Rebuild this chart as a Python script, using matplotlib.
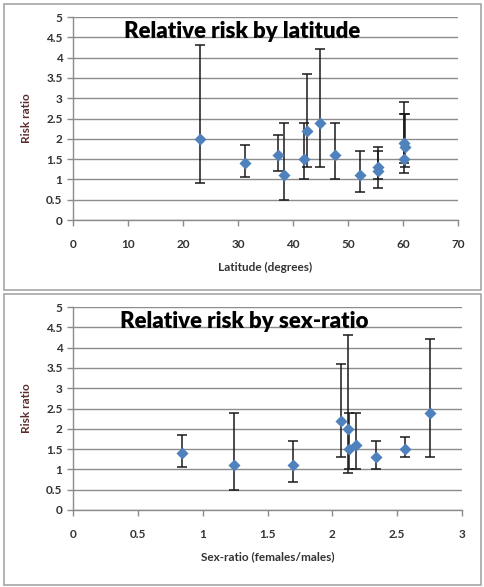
import matplotlib
matplotlib.use("Agg")
import matplotlib.pyplot as plt
from matplotlib.patches import Rectangle

plt.rcParams['font.family'] = ['Lato', 'DejaVu Sans']

### DATA ###
lat_x = [23.0, 31.2, 37.2, 38.3, 42.0, 42.6, 44.9, 47.6, 52.2, 55.4, 55.5, 60.1, 60.3, 60.1]
lat_rr = [2.0, 1.4, 1.6, 1.1, 1.5, 2.2, 2.4, 1.6, 1.1, 1.3, 1.2, 1.9, 1.8, 1.5]
lat_lo = [0.9, 1.05, 1.2, 0.5, 1.0, 1.3, 1.3, 1.0, 0.7, 1.0, 0.8, 1.4, 1.3, 1.15]
lat_hi = [4.3, 1.85, 2.1, 2.4, 2.4, 3.6, 4.2, 2.4, 1.7, 1.8, 1.7, 2.9, 2.6, 2.6]

sex_x = [0.84, 1.24, 1.70, 2.07, 2.12, 2.13, 2.18, 2.34, 2.56, 2.75]
sex_rr = [1.4, 1.1, 1.1, 2.2, 2.0, 1.5, 1.6, 1.3, 1.5, 2.4]
sex_lo = [1.05, 0.5, 0.7, 1.3, 0.9, 1.0, 1.0, 1.0, 1.3, 1.3]
sex_hi = [1.85, 2.4, 1.7, 3.6, 4.3, 2.4, 2.4, 1.7, 1.8, 4.2]

lat_ticks = [0, 10, 20, 30, 40, 50, 60, 70]
sex_ticks = [0, 0.5, 1, 1.5, 2, 2.5, 3]
y_ticks = [0, 0.5, 1, 1.5, 2, 2.5, 3, 3.5, 4, 4.5, 5]
##############

W, H = 484, 587
fig = plt.figure(figsize=(W / 100, H / 100), dpi=100)
fig.patch.set_facecolor("white")

# panel frames
for (x0, y0, x1, y1) in [(4, 4, 481, 290), (4, 294, 481, 585)]:
    fig.patches.append(Rectangle((x0 / W, 1 - y1 / H), (x1 - x0) / W, (y1 - y0) / H,
                                 transform=fig.transFigure, fill=False,
                                 edgecolor="#a6a6a6", linewidth=1.2))


def panel(rect, xs, ys, lo, hi, xticks, xlabel, title, xfmt):
    ax = fig.add_axes(rect)
    yerr = [[y - l for y, l in zip(ys, lo)], [h - y for y, h in zip(ys, hi)]]
    ax.errorbar(xs, ys, yerr=yerr, fmt="none", ecolor="#1a1a1a",
                elinewidth=1.1, capsize=3.5, capthick=1.1, zorder=3)
    ax.scatter(xs, ys, marker="D", s=38, color="#4f81bd", zorder=4, linewidths=0)
    ax.set_xlim(xticks[0], xticks[-1])
    ax.set_ylim(0, 5)
    ax.set_xticks(xticks)
    ax.set_xticklabels([xfmt(t) for t in xticks])
    ax.set_yticks(y_ticks)
    ax.set_yticklabels([("%g" % t) for t in y_ticks])
    ax.grid(axis="y", color="#8c8c8c", linewidth=1.0)
    ax.set_axisbelow(True)
    for s in ["top", "right"]:
        ax.spines[s].set_visible(False)
    for s in ["left", "bottom"]:
        ax.spines[s].set_color("#8c8c8c")
        ax.spines[s].set_linewidth(1.0)
    ax.tick_params(axis="both", colors="#8c8c8c", labelcolor="#333333",
                   labelsize=8.5, length=4, width=1.0, direction="out")
    ax.tick_params(axis="x", pad=10)
    for t in ax.get_xticklabels() + ax.get_yticklabels():
        t.set_fontweight("bold")
    ax.set_xlabel(xlabel, fontsize=8.5, fontweight="bold", color="#333333", labelpad=8)
    ax.set_ylabel("Risk ratio", fontsize=8.5, fontweight="bold", color="#5a2d2d", labelpad=10)
    ax.text(0.44, 0.93, title, transform=ax.transAxes, ha="center", va="center",
            fontsize=16, fontweight="heavy", color="black")
    return ax


panel([73 / W, 1 - 220 / H, 385 / W, 203 / H], lat_x, lat_rr, lat_lo, lat_hi,
      lat_ticks, "Latitude (degrees)", "Relative risk by latitude", lambda t: "%d" % t)
panel([73 / W, 1 - 510 / H, 389 / W, 203 / H], sex_x, sex_rr, sex_lo, sex_hi,
      sex_ticks, "Sex-ratio (females/males)", "Relative risk by sex-ratio", lambda t: "%g" % t)

fig.savefig("out.png", dpi=100)
